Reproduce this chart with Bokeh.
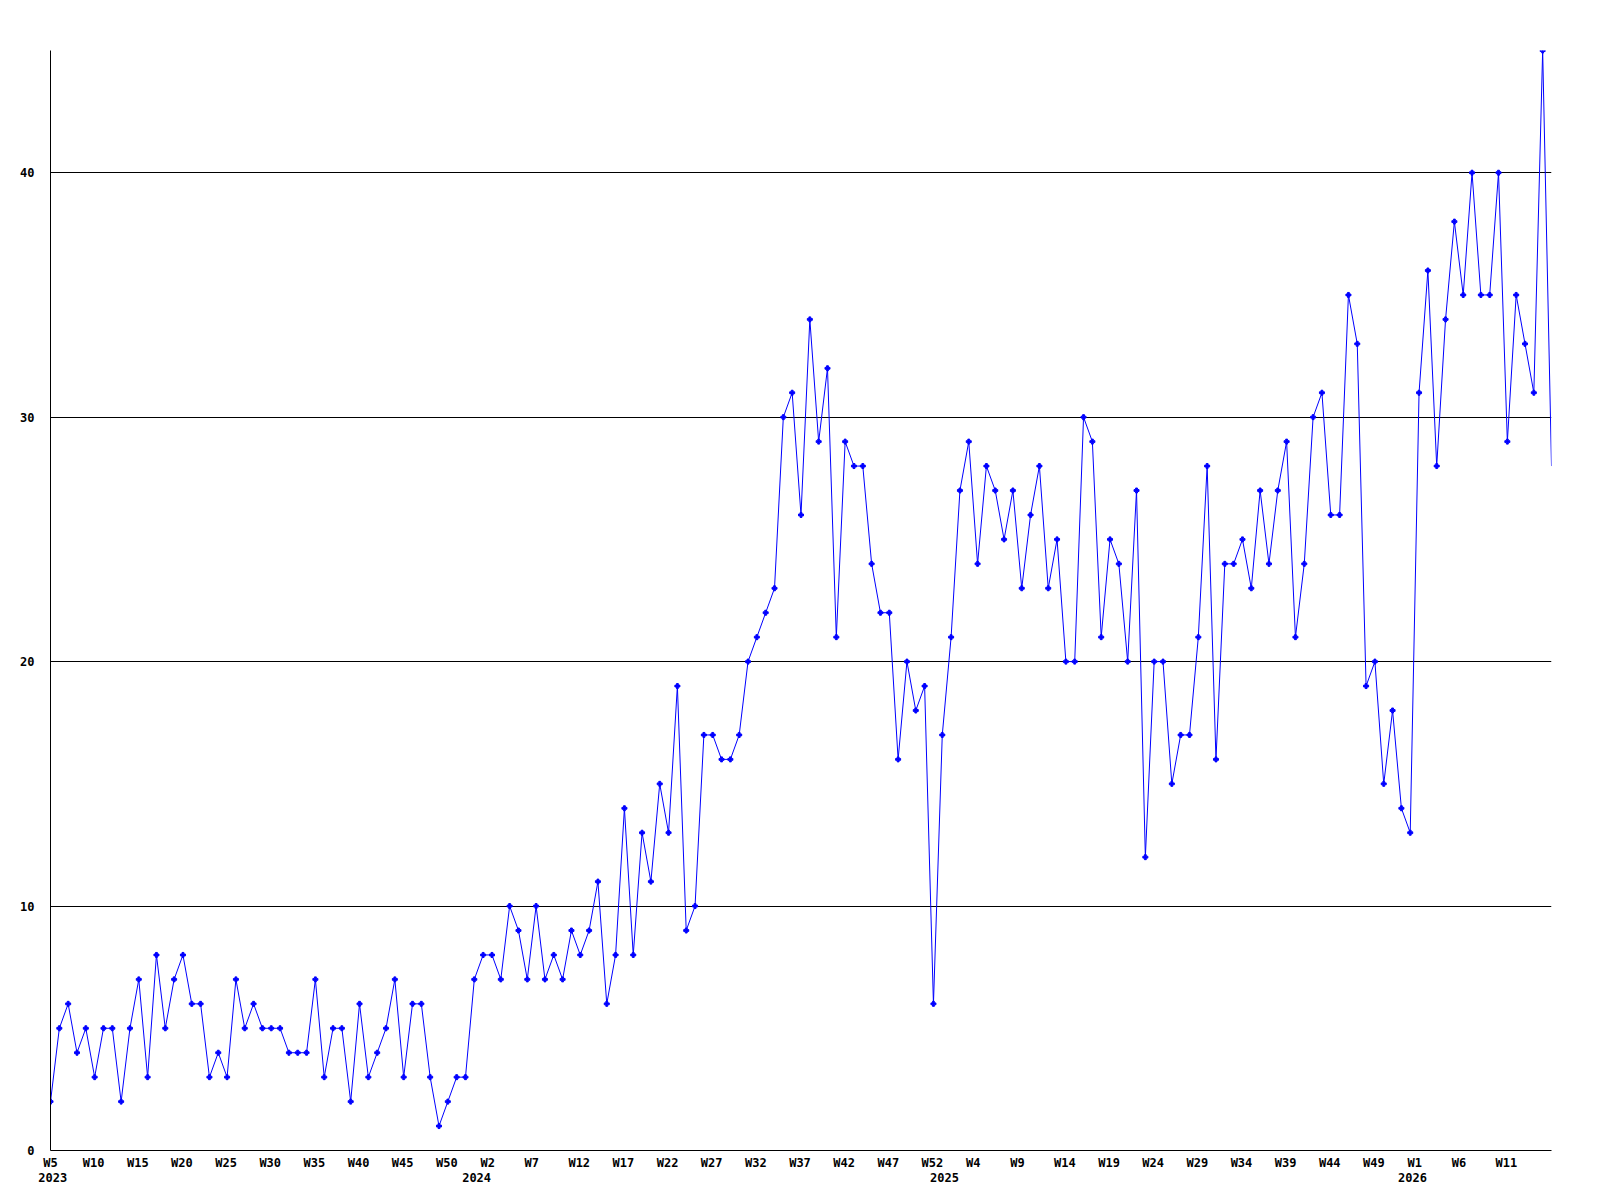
from bokeh.plotting import figure
from bokeh.models import Range1d, FixedTicker, LinearAxis, Grid
from bokeh.embed import file_html
from bokeh.resources import INLINE

# ---- data (weekly counts, 2023 W5 .. 2026 W16) ----
first_year = 2023
first_week = 5
weeks_per_year = 53

values = [
    2, 5, 6, 4, 5, 3, 5, 5, 2, 5,
    7, 3, 8, 5, 7, 8, 6, 6, 3, 4,
    3, 7, 5, 6, 5, 5, 5, 4, 4, 4,
    7, 3, 5, 5, 2, 6, 3, 4, 5, 7,
    3, 6, 6, 3, 1, 2, 3, 3, 7, 8,
    8, 7, 10, 9, 7, 10, 7, 8, 7, 9,
    8, 9, 11, 6, 8, 14, 8, 13, 11, 15,
    13, 19, 9, 10, 17, 17, 16, 16, 17, 20,
    21, 22, 23, 30, 31, 26, 34, 29, 32, 21,
    29, 28, 28, 24, 22, 22, 16, 20, 18, 19,
    6, 17, 21, 27, 29, 24, 28, 27, 25, 27,
    23, 26, 28, 23, 25, 20, 20, 30, 29, 21,
    25, 24, 20, 27, 12, 20, 20, 15, 17, 17,
    21, 28, 16, 24, 24, 25, 23, 27, 24, 27,
    29, 21, 24, 30, 31, 26, 26, 35, 33, 19,
    20, 15, 18, 14, 13, 31, 36, 28, 34, 38,
    35, 40, 35, 35, 40, 29, 35, 33, 31, 45,
    28,
]
y_ticks = [0, 10, 20, 30, 40]
grid_values = [10, 20, 30, 40]

# week / year of each point
years, weeks = [], []
yr, wk = first_year, first_week
for _ in values:
    years.append(yr)
    weeks.append(wk)
    wk += 1
    if wk > weeks_per_year:
        wk = 1
        yr += 1

x = list(range(len(values)))
n = len(values)

# ---- layout constants ----
W, H = 1592, 1192
left, right, top, bottom = 50, 41, 50, 42
frame_w = W - left - right
px_per_unit = frame_w / (n - 1)
char_px = 6.6

def label_pos(idx, text):
    # labels in the reference sit as if left aligned; shift centred labels
    off_px = -1 + (len(text) - 3) * char_px / 2
    return round(max(idx + off_px / px_per_unit, 0), 3)

week_ticks, week_over = [], {}
for i in range(0, n - 1, 5):
    t = "W%d" % weeks[i]
    pos = label_pos(i, t)
    week_ticks.append(pos)
    week_over[pos] = t

year_ticks, year_over = [], {}
for i in range(n):
    if i == 0 or years[i] != years[i - 1]:
        t = str(years[i])
        pos = label_pos(max(i - 1, 0), t)
        year_ticks.append(pos)
        year_over[pos] = t

p = figure(width=W, height=H, output_backend="svg", toolbar_location=None,
           x_range=Range1d(0, n - 1), y_range=Range1d(0, 45),
           x_axis_location=None, y_axis_location=None)
p.min_border_left = left
p.min_border_right = right
p.min_border_top = top
p.min_border_bottom = bottom
p.outline_line_color = None
p.background_fill_color = "white"
p.border_fill_color = "white"

font = "DejaVu Sans Mono"

def style_axis(ax):
    ax.axis_line_color = "black"
    ax.axis_line_width = 1
    ax.major_tick_line_color = None
    ax.minor_tick_line_color = None
    ax.major_tick_out = 0
    ax.major_tick_in = 0
    ax.minor_tick_out = 0
    ax.minor_tick_in = 0
    ax.major_label_text_font = font
    ax.major_label_text_font_style = "bold"
    ax.major_label_text_font_size = "12px"
    ax.major_label_text_color = "black"

yaxis = LinearAxis(ticker=FixedTicker(ticks=y_ticks))
style_axis(yaxis)
yaxis.major_label_standoff = 16
p.add_layout(yaxis, "left")

xaxis = LinearAxis(ticker=FixedTicker(ticks=week_ticks),
                   major_label_overrides=week_over)
style_axis(xaxis)
xaxis.major_label_standoff = 5
p.add_layout(xaxis, "below")

yearaxis = LinearAxis(ticker=FixedTicker(ticks=year_ticks),
                      major_label_overrides=year_over)
style_axis(yearaxis)
yearaxis.axis_line_color = None
yearaxis.major_label_standoff = 0
p.add_layout(yearaxis, "below")

p.xgrid.visible = False
p.ygrid.visible = False
g = Grid(dimension=1, ticker=FixedTicker(ticks=grid_values),
         grid_line_color="black", grid_line_width=1, grid_line_alpha=1.0)
p.add_layout(g)

p.line(x, values, line_color="#0000ff", line_width=1)
p.scatter(x[:-1], values[:-1], marker="plus", size=5, color="#0000ff")

open("out.html", "w").write(file_html(p, INLINE))
